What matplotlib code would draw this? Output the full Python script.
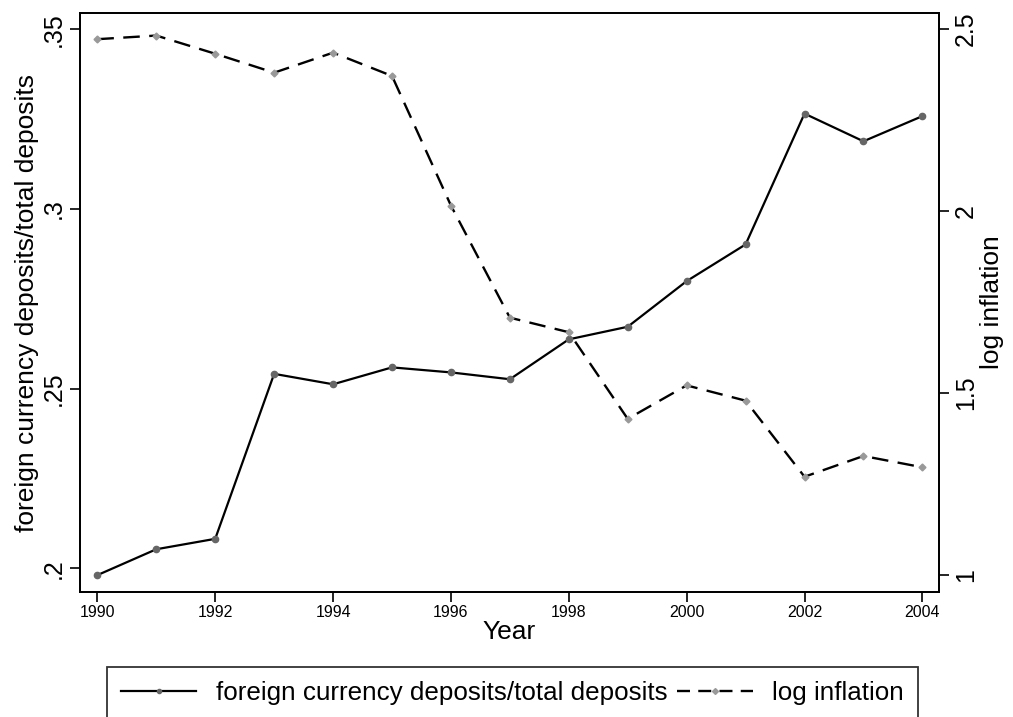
import matplotlib
matplotlib.use("Agg")
import matplotlib.pyplot as plt
from matplotlib.lines import Line2D

plt.rcParams['font.family'] = ['Liberation Sans', 'DejaVu Sans']

years = list(range(1990, 2005))
fc_share = [0.1981, 0.2053, 0.2082, 0.2541, 0.2512, 0.2559, 0.2545, 0.2526,
            0.2637, 0.2672, 0.2799, 0.2901, 0.3265, 0.3188, 0.3258]
log_infl = [2.472, 2.482, 2.432, 2.380, 2.435, 2.371, 2.015, 1.707,
            1.667, 1.429, 1.521, 1.479, 1.270, 1.327, 1.296]

left_ticks = [0.2, 0.25, 0.3, 0.35]
left_labels = ['.2', '.25', '.3', '.35']
right_ticks = [1, 1.5, 2, 2.5]
right_labels = ['1', '1.5', '2', '2.5']
x_ticks = list(range(1990, 2005, 2))

fig = plt.figure(figsize=(10.13, 7.17), dpi=100)
ax1 = fig.add_axes([0.079, 0.1743, 0.848, 0.8076])

ax1.plot(years, fc_share, '-', color='black', lw=1.6,
         marker='o', ms=4.5, mfc='#666666', mec='#666666', zorder=3)
ax1.set_xlim(1989.706, 2004.283)
ax1.set_ylim(0.1934, 0.3545)
ax1.set_yticks(left_ticks)
ax1.set_yticklabels(left_labels, rotation=90, va='center', fontsize=18)
ax1.set_xticks(x_ticks)
ax1.set_xticklabels([str(x) for x in x_ticks], fontsize=11.5)
ax1.set_xlabel('Year', fontsize=19, labelpad=0)
ax1.set_ylabel('foreign currency deposits/total deposits', fontsize=19, labelpad=2)
ax1.tick_params(axis='both', direction='out', length=7, width=1.2, colors='black')
ax1.tick_params(axis='x', pad=2)

ax2 = ax1.twinx()
ax2.plot(years, log_infl, color='black', lw=1.7, dashes=(7, 4),
         marker='D', ms=3.5, mfc='#999999', mec='#999999', zorder=3)
ax2.set_ylim(0.9533, 2.544)
ax2.set_yticks(right_ticks)
ax2.set_yticklabels(right_labels, rotation=90, va='center', fontsize=18)
ax2.set_ylabel('log inflation', fontsize=19, labelpad=2)
ax2.tick_params(axis='y', direction='out', length=7, width=1.2)

for ax in (ax1, ax2):
    for s in ax.spines.values():
        s.set_linewidth(1.3)

# legend keys: solid with dots, dashed with diamonds
handles = [
    Line2D([], [], color='black', lw=1.6, marker='o', ms=3, mfc='#666666', mec='#666666'),
    Line2D([], [], color='black', lw=1.7, dashes=(5.5, 3.5), marker='D', ms=3, mfc='#999999', mec='#999999'),
]
leg = fig.legend(handles, ['foreign currency deposits/total deposits', 'log inflation'],
                 loc='upper center', bbox_to_anchor=(0.506, 0.0885), ncol=2,
                 fontsize=18.7, frameon=True, fancybox=False, edgecolor='black',
                 handlelength=2.9, handletextpad=0.75, columnspacing=0.38, borderpad=0.55)
leg.get_frame().set_linewidth(1.3)

fig.savefig('out.png', dpi=100)
plt.close()
